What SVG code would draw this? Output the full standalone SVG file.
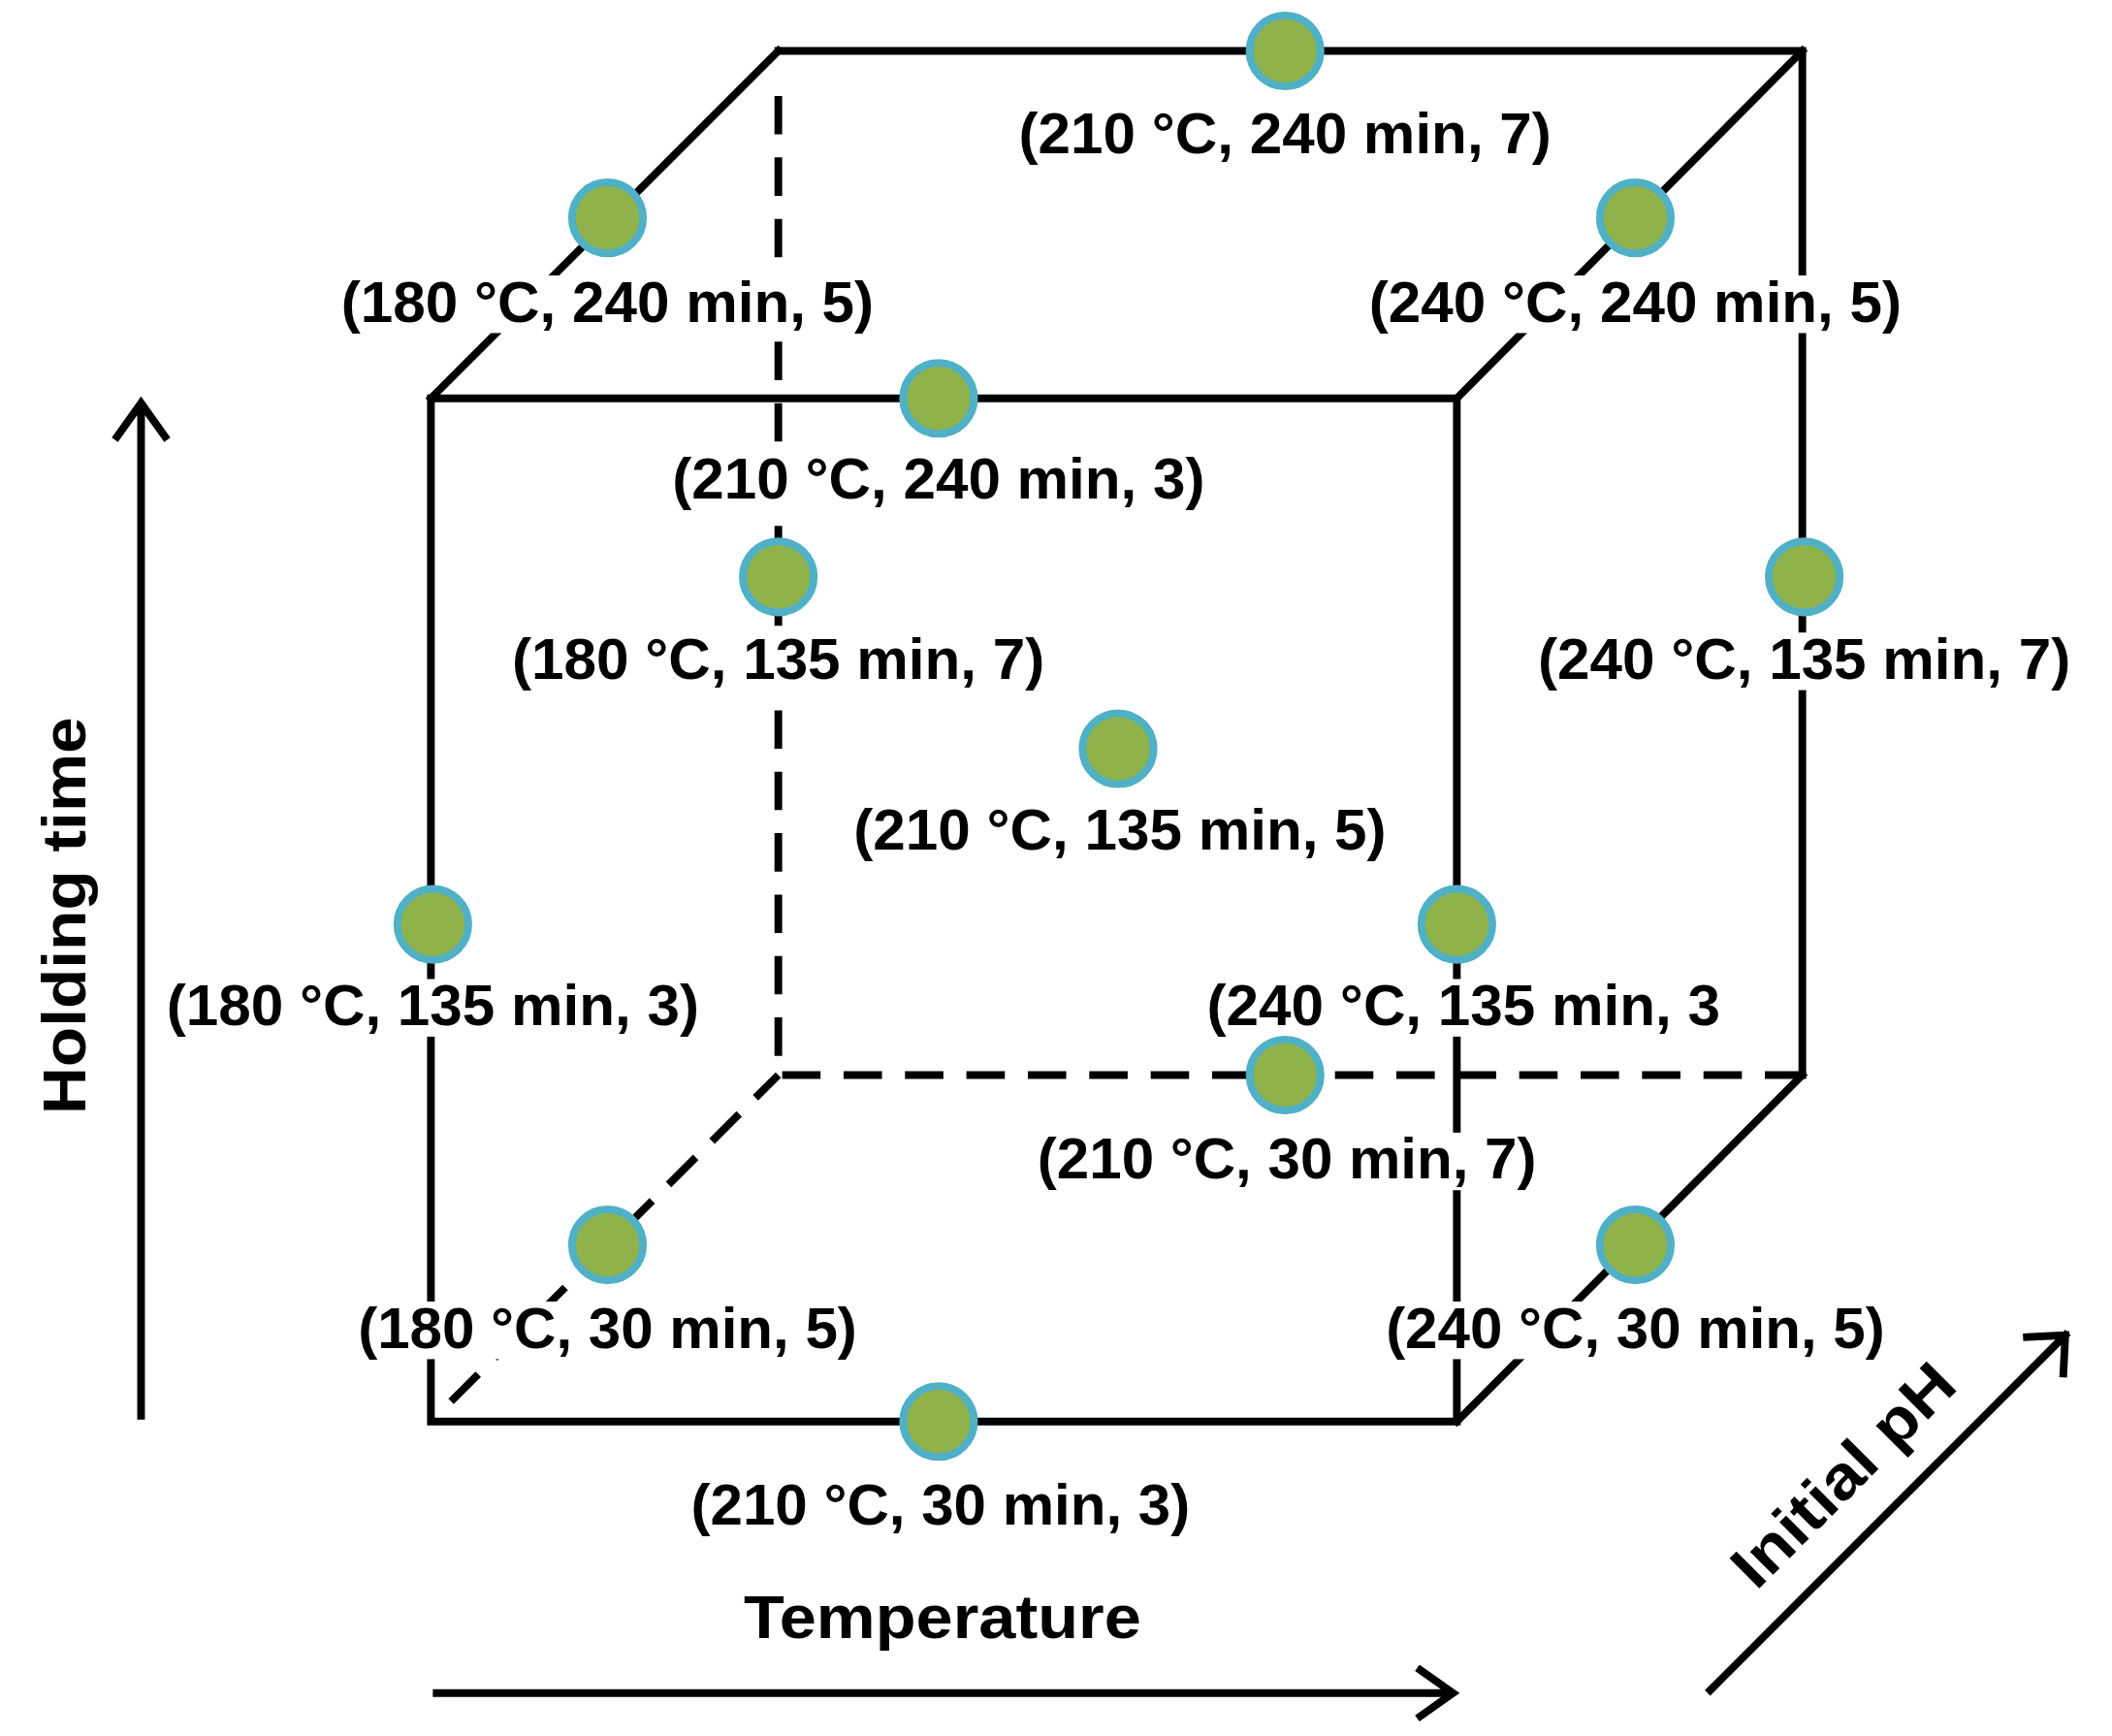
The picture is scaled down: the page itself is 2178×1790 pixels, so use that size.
<svg xmlns="http://www.w3.org/2000/svg" width="2178" height="1790" viewBox="0 0 2178 1790">
<style>
.s{stroke:#000;stroke-width:8;fill:none;stroke-linecap:square}
.d{stroke:#000;stroke-width:8;fill:none;stroke-dasharray:40 24}
.p{fill:#8fb34a;stroke:#4fb0c6;stroke-width:8}
.b{fill:#fff}
.t{font-family:"Liberation Sans",Arial,sans-serif;font-weight:bold;font-size:60px;text-anchor:middle;fill:#000}
.a{font-family:"Liberation Sans",Arial,sans-serif;font-weight:bold;font-size:64px;text-anchor:middle;fill:#000}
</style>
<g transform="scale(0.9897)">
<g id="connectors">
<path class="s" d="M449 415H1518V1481H449Z"/>
<path class="s" d="M811 53H1878V1120"/>
<path class="s" d="M449 415L811 53M1518 415L1878 53M1518 1481L1878 1120"/>
<path class="d" d="M811 100V1120H1878"/>
<path class="d" d="M470 1460L811 1120"/>
<path class="s" d="M147 1475V425M122 455L147 420L172 455"/>
<path class="s" d="M455 1764H1510M1480 1740L1514 1764L1480 1788"/>
<path class="s" d="M1782 1761L2152 1391M2112 1393L2152 1391L2150 1431"/>
</g>
<g id="backs">
<rect class="b" x="1057" y="112" width="565" height="60"/>
<rect class="b" x="351" y="287" width="565" height="60"/>
<rect class="b" x="1422" y="287" width="565" height="60"/>
<rect class="b" x="696" y="471" width="565" height="60"/>
<rect class="b" x="529" y="659" width="565" height="60"/>
<rect class="b" x="1598" y="659" width="565" height="60"/>
<rect class="b" x="885" y="837" width="565" height="60"/>
<rect class="b" x="169" y="1020" width="565" height="60"/>
<rect class="b" x="1253" y="1020" width="545" height="60"/>
<rect class="b" x="1076" y="1180" width="530" height="60"/>
<rect class="b" x="368" y="1356" width="530" height="60"/>
<rect class="b" x="1439" y="1356" width="530" height="60"/>
<rect class="b" x="715" y="1540" width="530" height="60"/>
</g>
<g id="labels">
<text class="t" x="1339" y="160" textLength="555" lengthAdjust="spacingAndGlyphs">(210 °C, 240 min, 7)</text>
<text class="t" x="633" y="335" textLength="555" lengthAdjust="spacingAndGlyphs">(180 °C, 240 min, 5)</text>
<text class="t" x="1704" y="335" textLength="555" lengthAdjust="spacingAndGlyphs">(240 °C, 240 min, 5)</text>
<text class="t" x="978" y="519" textLength="555" lengthAdjust="spacingAndGlyphs">(210 °C, 240 min, 3)</text>
<text class="t" x="811" y="707" textLength="555" lengthAdjust="spacingAndGlyphs">(180 °C, 135 min, 7)</text>
<text class="t" x="1880" y="707" textLength="555" lengthAdjust="spacingAndGlyphs">(240 °C, 135 min, 7)</text>
<text class="t" x="1167" y="885" textLength="555" lengthAdjust="spacingAndGlyphs">(210 °C, 135 min, 5)</text>
<text class="t" x="451" y="1068" textLength="555" lengthAdjust="spacingAndGlyphs">(180 °C, 135 min, 3)</text>
<text class="t" x="1525" y="1068" textLength="535" lengthAdjust="spacingAndGlyphs">(240 °C, 135 min, 3</text>
<text class="t" x="1341" y="1228" textLength="520" lengthAdjust="spacingAndGlyphs">(210 °C, 30 min, 7)</text>
<text class="t" x="633" y="1404" textLength="520" lengthAdjust="spacingAndGlyphs">(180 °C, 30 min, 5)</text>
<text class="t" x="1704" y="1404" textLength="520" lengthAdjust="spacingAndGlyphs">(240 °C, 30 min, 5)</text>
<text class="t" x="980" y="1588" textLength="520" lengthAdjust="spacingAndGlyphs">(210 °C, 30 min, 3)</text>
</g>
<g id="points">
<circle class="p" cx="1339" cy="53" r="37"/>
<circle class="p" cx="633" cy="227" r="37"/>
<circle class="p" cx="1704" cy="227" r="37"/>
<circle class="p" cx="978" cy="415" r="37"/>
<circle class="p" cx="811" cy="601" r="37"/>
<circle class="p" cx="1880" cy="601" r="37"/>
<circle class="p" cx="1165" cy="780" r="37"/>
<circle class="p" cx="451" cy="963" r="37"/>
<circle class="p" cx="1518" cy="963" r="37"/>
<circle class="p" cx="1339" cy="1120" r="37"/>
<circle class="p" cx="633" cy="1297" r="37"/>
<circle class="p" cx="1704" cy="1297" r="37"/>
<circle class="p" cx="978" cy="1481" r="37"/>
</g>
<g id="axes">
<text class="a" x="0" y="0" transform="translate(89 954) rotate(-90)" textLength="414" lengthAdjust="spacingAndGlyphs">Holding time</text>
<text class="a" x="982" y="1707" textLength="414" lengthAdjust="spacingAndGlyphs">Temperature</text>
<text class="a" x="0" y="0" transform="translate(1936 1552) rotate(-45)" textLength="300" lengthAdjust="spacingAndGlyphs">Initial pH</text>
</g>
</g>
</svg>
